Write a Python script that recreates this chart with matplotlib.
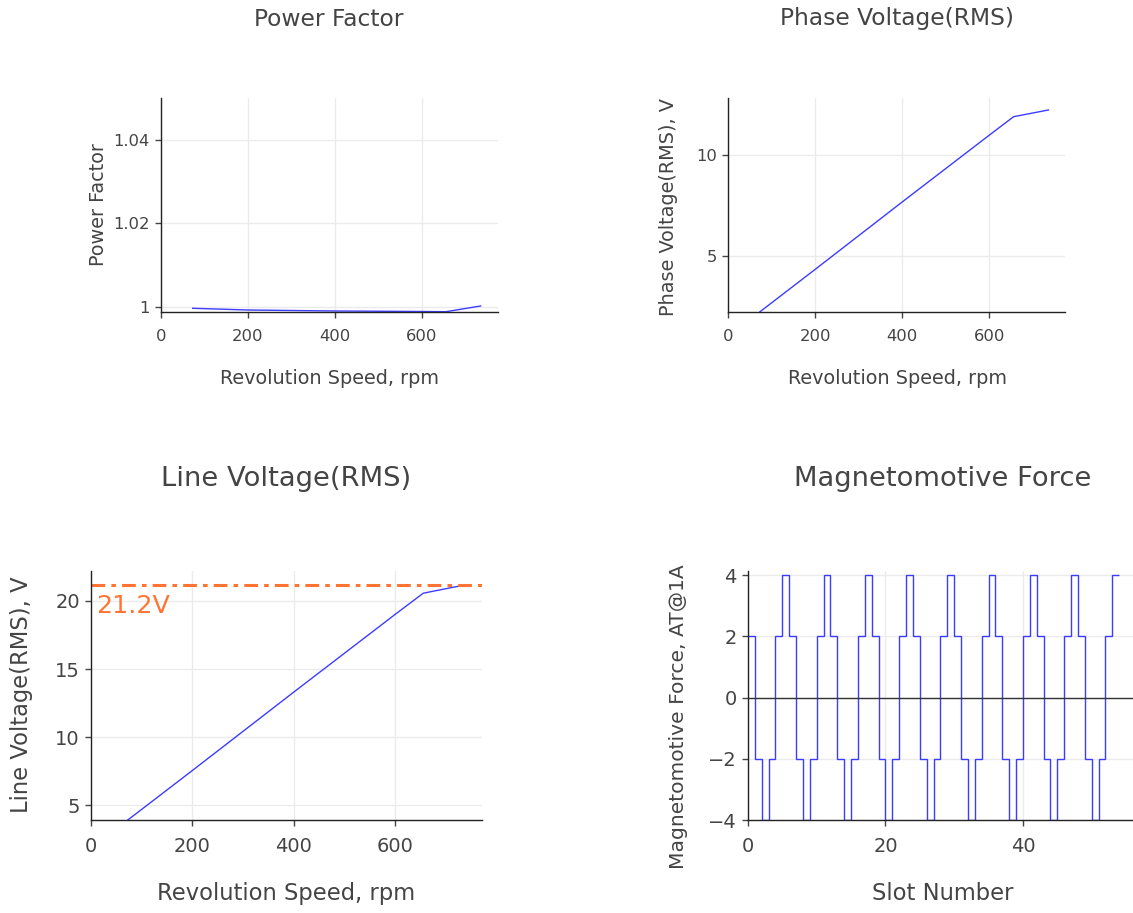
import matplotlib.pyplot as plt

plt.rcParams['font.family'] = ['DejaVu Sans']

# ---- data ----
speed = [73, 200, 400, 600, 656, 736]
power_factor = [0.99962, 0.99921, 0.99897, 0.99885, 0.99880, 1.00017]
phase_voltage = [2.27, 4.36, 7.68, 10.97, 11.88, 12.21]
line_voltage = [3.93, 7.55, 13.30, 19.00, 20.57, 21.16]
voltage_limit = 21.2

slot_edges = list(range(55))
mmf = [2, -2, -4, -2, 2, 4, 2, -2, -4, -2, 2, 4,
       2, -2, -4, -2, 2, 4, 2, -2, -4, -2, 2, 4,
       2, -2, -4, -2, 2, 4, 2, -2, -4, -2, 2, 4,
       2, -2, -4, -2, 2, 4, 2, -2, -4, -2, 2, 4,
       2, -2, -4, -2, 2, 4]

W, H = 1133, 913
TXT = '#444444'
BLUE = '#3c3cff'
ORANGE = '#ff7433'

fig = plt.figure(figsize=(W / 100, H / 100), dpi=100)


def px_axes(left, top, right, bottom):
    return fig.add_axes([left / W, 1 - bottom / H, (right - left) / W, (bottom - top) / H])


def style(ax, size):
    for s in ['top', 'right']:
        ax.spines[s].set_visible(False)
    for s in ['left', 'bottom']:
        ax.spines[s].set_color('#222222')
        ax.spines[s].set_linewidth(1.0)
    ax.grid(True, color='#ebebeb', lw=1.0)
    ax.set_axisbelow(True)
    ax.tick_params(length=4, width=1, color='#444444', labelcolor=TXT, labelsize=size, pad=4)
    ax.tick_params(axis='x', pad=8)


def fig_text(x, y, s, size, rot=0, color=TXT):
    fig.text(x / W, 1 - y / H, s, ha='center', va='center', fontsize=size, rotation=rot, color=color)


# Power factor
ax1 = px_axes(161, 98, 498, 312)
style(ax1, 11.8)
ax1.plot(speed, power_factor, color=BLUE, lw=1.0)
ax1.set_xlim(0, 776)
ax1.set_ylim(0.99873, 1.05)
ax1.set_xticks([0, 200, 400, 600])
ax1.set_yticks([1.0, 1.02, 1.04])
ax1.set_yticklabels(['1', '1.02', '1.04'])
fig_text(329, 19, 'Power Factor', 16.8)
fig_text(329, 378, 'Revolution Speed, rpm', 13.9)
fig_text(99, 205, 'Power Factor', 13.9, rot=90)

# Phase voltage
ax2 = px_axes(728, 98, 1065, 312)
style(ax2, 11.8)
ax2.plot(speed, phase_voltage, color=BLUE, lw=1.0)
ax2.set_xlim(0, 774)
ax2.set_ylim(2.265, 12.8)
ax2.set_xticks([0, 200, 400, 600])
ax2.set_yticks([5, 10])
fig_text(897, 19, 'Phase Voltage(RMS)', 16.8)
fig_text(897, 378, 'Revolution Speed, rpm', 13.9)
fig_text(669, 207, 'Phase Voltage(RMS), V', 13.9, rot=90)

# Line voltage
ax3 = px_axes(91, 571, 482, 820)
style(ax3, 14)
ax3.plot(speed, line_voltage, color=BLUE, lw=1.0)
ax3.axhline(voltage_limit, color=ORANGE, lw=2.2, linestyle=(0, (4.5, 2, 1.5, 2)))
ax3.text(0.012, voltage_limit - 0.7, '%.1fV' % voltage_limit, color=ORANGE, fontsize=18.3,
         ha='left', va='top', transform=ax3.get_yaxis_transform())
ax3.set_xlim(0, 772)
ax3.set_ylim(3.92, 22.2)
ax3.set_xticks([0, 200, 400, 600])
ax3.set_yticks([5, 10, 15, 20])
fig_text(286, 479, 'Line Voltage(RMS)', 19.7)
fig_text(286, 893, 'Revolution Speed, rpm', 16.3)
fig_text(22, 695, 'Line Voltage(RMS), V', 16.3, rot=90)

# Magnetomotive force
ax4 = px_axes(748, 571, 1137, 820)
style(ax4, 14)
ax4.stairs(mmf, slot_edges, baseline=None, color=BLUE, lw=1.0)
ax4.axhline(0, color='#333333', lw=1.0)
ax4.set_xlim(0, 56.6)
ax4.set_ylim(-4, 4.14)
ax4.set_xticks([0, 20, 40])
ax4.set_yticks([-4, -2, 0, 2, 4])
ax4.set_yticklabels(['\u22124', '\u22122', '0', '2', '4'])
fig_text(943, 479, 'Magnetomotive Force', 19.7)
fig_text(943, 893, 'Slot Number', 16.3)
fig_text(679, 717, 'Magnetomotive Force, AT@1A', 14.6, rot=90)

plt.savefig('out.png', dpi=100)
